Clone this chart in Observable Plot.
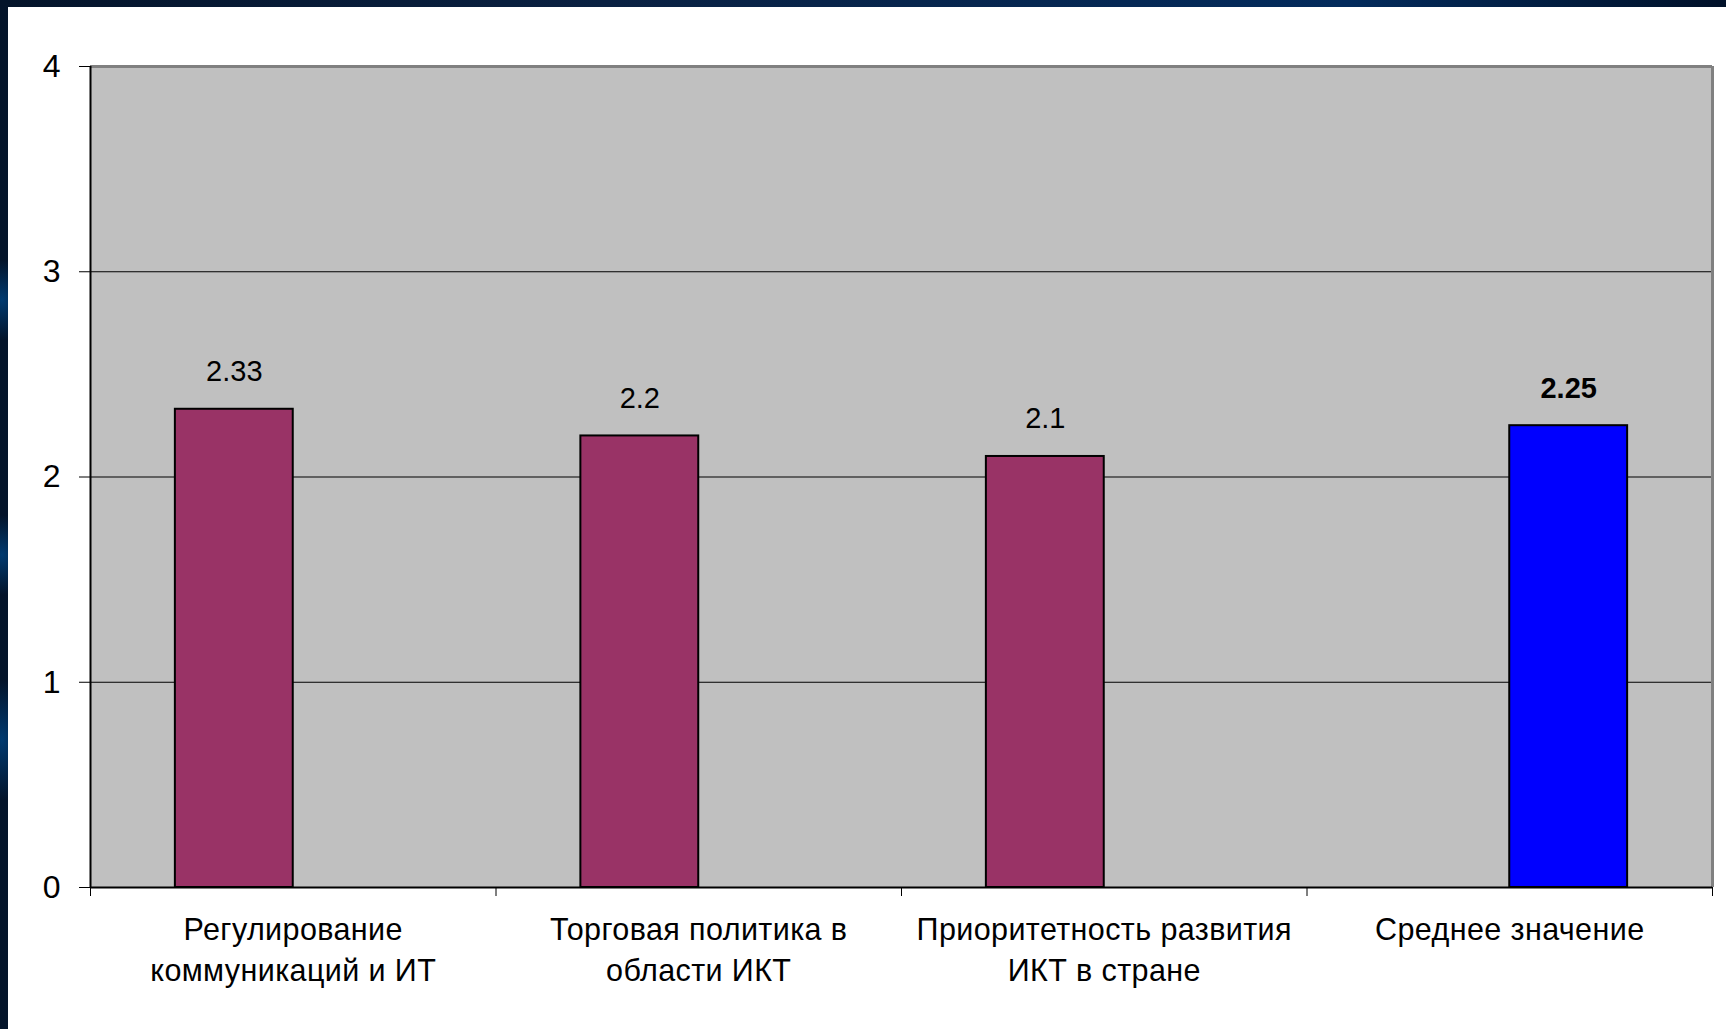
<!DOCTYPE html>
<html>
<head>
<meta charset="utf-8">
<script src="https://cdn.jsdelivr.net/npm/d3@7"></script>
<script src="https://cdn.jsdelivr.net/npm/@observablehq/plot@0.6"></script>
<style>
  html, body { margin: 0; padding: 0; }
  body {
    width: 1726px; height: 1029px; overflow: hidden; position: relative;
    background:
      radial-gradient(ellipse 30px 40px at 2px 300px, #003a70 0%, rgba(0,58,112,0) 100%),
      radial-gradient(ellipse 30px 40px at 2px 555px, #003a70 0%, rgba(0,58,112,0) 100%),
      radial-gradient(ellipse 30px 60px at 2px 740px, #003a70 0%, rgba(0,58,112,0) 100%),
      linear-gradient(90deg, #04142a 0%, #0a2142 35%, #032b5c 78%, #001129 100%);
    font-family: "Liberation Sans", Arial, sans-serif;
  }
  #slide { position: absolute; left: 8px; top: 7px; width: 1718px; height: 1022px; background: #fff; }
  .cat-labels text { letter-spacing: 0.4px; }
</style>
</head>
<body>
<div id="slide"></div>
<script>
// ---- data ----
const categories = [
  "Регулирование\nкоммуникаций и ИТ",
  "Торговая политика в\nобласти ИКТ",
  "Приоритетность развития\nИКТ в стране",
  "Среднее значение"
];
const values = [2.33, 2.2, 2.1, 2.25];
const valueLabels = ["2.33", "2.2", "2.1", "2.25"];
const seriesNames = ["Показатель", "Среднее значение"];
const seriesOfBar = [0, 0, 0, 1];
const yTicks = [0, 1, 2, 3, 4];
const gridTicks = [1, 2, 3];

// Excel-style clustered layout: 2 series per category, gap width 144%
const gapWidth = 1.44;
const nSeries = seriesNames.length;
const slot = 1 / (nSeries + gapWidth);

const rows = values.map((v, i) => {
  const s = seriesOfBar[i];
  return {
    idx: i,
    series: seriesNames[s],
    x1: i + (gapWidth / 2 + s) * slot,
    x2: i + (gapWidth / 2 + s + 1) * slot,
    value: v,
    label: valueLabels[i],
    bold: s === 1
  };
});

const chart = Plot.plot({
  width: 1718,
  height: 1022,
  marginLeft: 82,
  marginTop: 59,
  marginRight: 14,
  marginBottom: 142,
  style: { fontFamily: "'Liberation Sans', Arial, sans-serif", background: "transparent", color: "#000", overflow: "visible" },
  x: { type: "linear", domain: [0, categories.length], axis: null },
  y: { domain: [0, 4], axis: null },
  color: { domain: seriesNames, range: ["#993366", "#0000ff"] },
  marks: [
    Plot.frame({ fill: "#c0c0c0", stroke: null }),
    Plot.gridY(gridTicks, { stroke: "#000", strokeOpacity: 1, strokeWidth: 1 }),
    Plot.ruleY([4], { stroke: "#808080", strokeWidth: 3 }),
    Plot.ruleX([categories.length], { stroke: "#808080", strokeWidth: 3 }),
    Plot.rectY(rows, { x1: "x1", x2: "x2", y1: 0, y2: "value", fill: "series", stroke: "#000", strokeWidth: 2 }),
    Plot.text(rows.filter(d => !d.bold), { x: d => (d.x1 + d.x2) / 2, y: "value", text: "label", lineAnchor: "bottom", dy: -28, fontSize: 29, fill: "#000" }),
    Plot.text(rows.filter(d => d.bold), { x: d => (d.x1 + d.x2) / 2, y: "value", text: "label", lineAnchor: "bottom", dy: -28, fontSize: 29, fontWeight: "bold", fill: "#000" }),
    Plot.ruleX([0], { stroke: "#000", strokeWidth: 2 }),
    Plot.ruleY([0], { stroke: "#000", strokeWidth: 2 }),
    Plot.axisY({ ticks: yTicks, tickSize: 11, tickPadding: 19, fontSize: 32, tickFormat: d => String(d), label: null, stroke: "#000" }),
    Plot.axisX({ ticks: d3.range(categories.length + 1), tickSize: 9, tickFormat: () => "", label: null, stroke: "#000" }),
    Plot.axisX({ ticks: categories.map((c, i) => i + 0.5), tickSize: 0, tickPadding: 23, fontSize: 30.5, lineHeight: 1.36, tickFormat: d => categories[Math.floor(d)], label: null, className: "cat-labels" })
  ]
});
chart.style.position = "absolute";
chart.style.left = "0px";
chart.style.top = "0px";
document.getElementById("slide").appendChild(chart);
</script>
</body>
</html>
